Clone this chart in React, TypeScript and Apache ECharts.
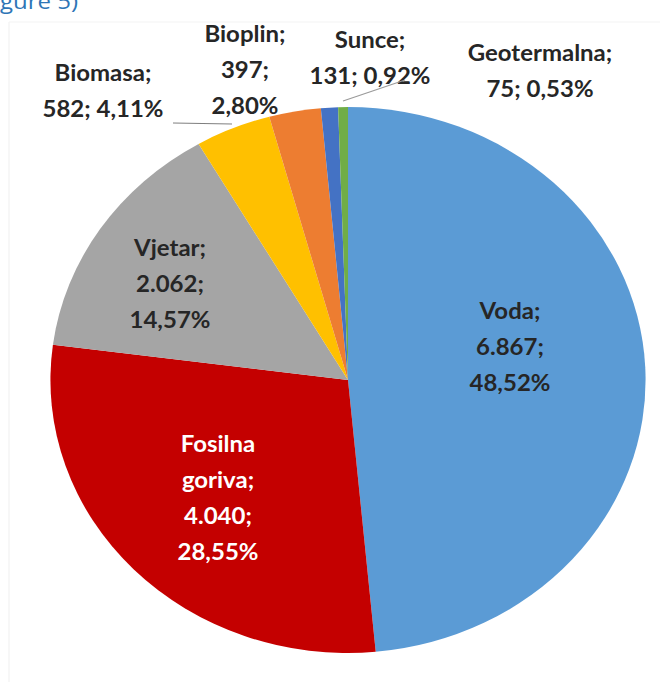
import React, { useEffect, useRef } from "react";
import * as echarts from "echarts";

// ---- data ----
const categories = ["Voda", "Fosilna goriva", "Vjetar", "Biomasa", "Bioplin", "Sunce", "Geotermalna"];
const values = [6867, 4040, 2062, 582, 397, 131, 75];
const nameLabels = ["Voda;", "Fosilna\ngoriva;", "Vjetar;", "Biomasa;", "Bioplin;", "Sunce;", "Geotermalna;"];
const valueLabels = ["6.867", "4.040", "2.062", "582", "397", "131", "75"];
const percentLabels = ["48,52%", "28,55%", "14,57%", "4,11%", "2,80%", "0,92%", "0,53%"];

// ---- styles / layout ----
const colors = ["#5B9BD5", "#C40000", "#A5A5A5", "#FFC000", "#ED7D31", "#4472C4", "#70AD47"];
const labelColors = ["#262626", "#FFFFFF", "#262626", "#262626", "#262626", "#262626", "#262626"];
const valueOnNewLine = [true, true, true, false, true, false, false];
// label centres in page pixels
const labelPos: number[][] = [
  [510, 346],
  [218, 497],
  [170, 283],
  [103, 90],
  [245, 69],
  [370, 57],
  [540, 70],
];
const S = 1.09; // horizontal stretch of the picture
const W = 666;
const H = 682;

export default function App() {
  const ref = useRef<HTMLDivElement>(null);
  useEffect(() => {
    if (!ref.current) return;
    const chart = echarts.init(ref.current, null, { renderer: "svg" });
    const data = categories.map((c, i) => ({
      name: c,
      value: values[i],
      itemStyle: { color: colors[i] },
      label: { color: labelColors[i] },
    }));
    chart.setOption({
      animation: false,
      backgroundColor: "#ffffff",
      graphic: [
        {
          type: "line",
          shape: { x1: 9 / S, y1: 22, x2: 9 / S, y2: 682 },
          style: { stroke: "#f0f0f0", lineWidth: 1 },
          z: 0,
        },
        {
          type: "line",
          shape: { x1: 9 / S, y1: 22, x2: 660 / S, y2: 22 },
          style: { stroke: "#f3f3f3", lineWidth: 1 },
          z: 0,
        },
        {
          type: "text",
          x: 0,
          y: 0,
          style: {
            text: "gure 5)",
            fill: "#2E75B6",
            font: '22px "Open Sans"',
            verticalAlign: "middle",
            align: "left",
          },
          z: 10,
        },
        {
          type: "line",
          shape: { x1: 173 / S, y1: 123, x2: 232 / S, y2: 124 },
          style: { stroke: "#7f7f7f", lineWidth: 1 },
          z: 10,
        },
        {
          type: "line",
          shape: { x1: 343 / S, y1: 101, x2: 405 / S, y2: 80 },
          style: { stroke: "#9a9a9a", lineWidth: 1 },
          z: 10,
        },
      ],
      series: [
        {
          type: "pie",
          center: [348 / S, 380],
          radius: 273,
          startAngle: 90,
          clockwise: true,
          avoidLabelOverlap: false,
          itemStyle: { borderWidth: 0 },
          emphasis: { disabled: true },
          label: {
            show: true,
            position: "inside",
            fontFamily: "Lato",
            fontWeight: "bold",
            fontSize: 22,
            lineHeight: 36,
            align: "center",
            formatter: (p: any) => {
              const i = p.dataIndex;
              const sep = valueOnNewLine[i] ? ";\n" : "; ";
              return nameLabels[i] + "\n" + valueLabels[i] + sep + percentLabels[i];
            },
          },
          labelLine: { show: false },
          labelLayout: (p: any) => {
            const i = p.dataIndex;
            return {
              x: labelPos[i][0] / S,
              y: labelPos[i][1],
              align: "center",
              verticalAlign: "middle",
            };
          },
          data,
        },
      ],
    });
    return () => chart.dispose();
  }, []);
  return (
    <div
      style={{
        position: "absolute",
        left: 0,
        top: 0,
        width: W,
        height: H,
        overflow: "hidden",
        background: "#fff",
      }}
    >
      <div
        ref={ref}
        style={{
          width: W / S,
          height: H,
          transform: `scaleX(${S})`,
          transformOrigin: "0 0",
        }}
      />
    </div>
  );
}
